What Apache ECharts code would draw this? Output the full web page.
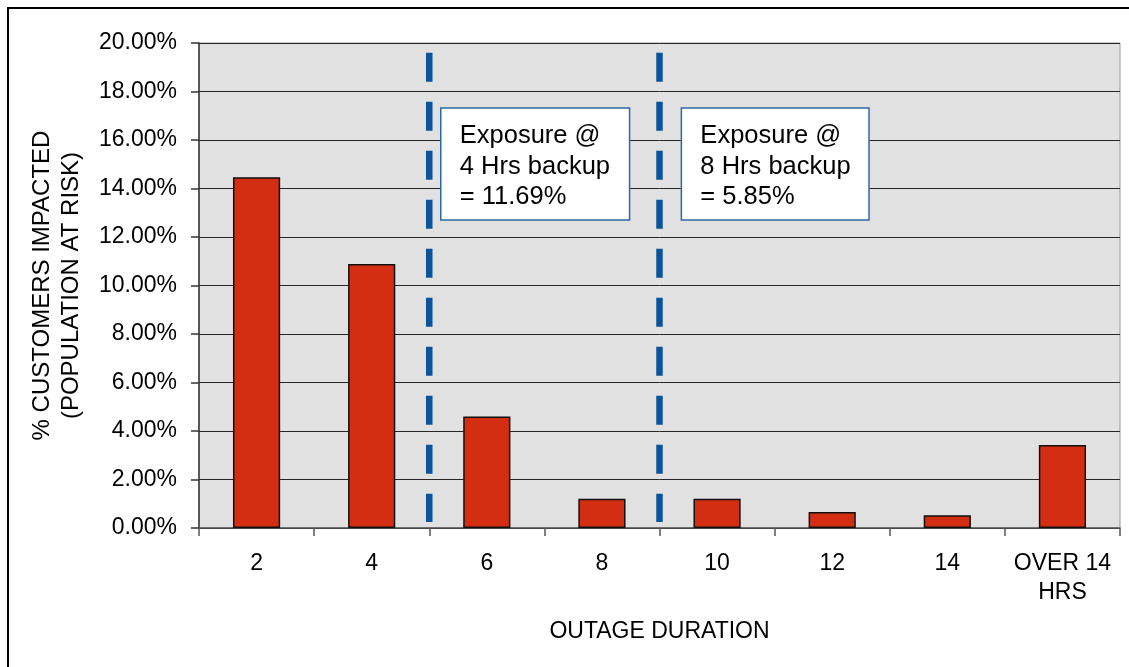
<!DOCTYPE html>
<html>
<head>
<meta charset="utf-8">
<title>Outage duration exposure</title>
<script src="https://cdn.jsdelivr.net/npm/echarts@6/dist/echarts.min.js"></script>
<style>
  html, body { margin: 0; padding: 0; background: #ffffff; }
  #chart { width: 1129px; height: 667px; }
</style>
</head>
<body>
<div id="chart"></div>
<script>
// Outage duration buckets (hours) and share of customers impacted (%)
var categories = ['2', '4', '6', '8', '10', '12', '14', 'OVER 14\nHRS'];
var impacted = [14.46, 10.89, 4.60, 1.21, 1.21, 0.66, 0.53, 3.42];

// Y axis scale
var yMin = 0, yMax = 20, yStep = 2;

// Backup thresholds, drawn on the boundary between category slots
// (slot index scale: category i sits at i, boundaries at i +/- 0.5)
var backupLines = [1.5, 3.5];
var lineTop = 19.6, lineBottom = 0.25;

// Annotation boxes: [left, right, top, bottom] in slot / percent units
var boxes = [
  [1.60, 3.24, 17.32, 12.70],
  [3.69, 5.32, 17.32, 12.70]
];
var boxTexts = [
  'Exposure @\n4 Hrs backup\n= 11.69%',
  'Exposure @\n8 Hrs backup\n= 5.85%'
];

var FONT = "'Liberation Sans', Arial, sans-serif";

var chart = echarts.init(document.getElementById('chart'), null, { renderer: 'canvas' });

chart.setOption({
  animation: false,
  backgroundColor: '#ffffff',
  textStyle: { fontFamily: FONT, color: '#000' },
  graphic: [{
    type: 'rect',
    shape: { x: 8, y: 8, width: 1200, height: 1000 },
    style: { fill: 'none', stroke: '#000', lineWidth: 2 },
    silent: true,
    z: 100
  }],
  grid: {
    left: 199, right: 9, top: 43, bottom: 139,
    show: true,
    backgroundColor: '#E1E1E1',
    borderColor: '#9a9a9a',
    borderWidth: 1
  },
  xAxis: [{
    type: 'category',
    data: categories,
    boundaryGap: true,
    axisLine: { onZero: false, lineStyle: { color: '#555', width: 1.5 } },
    axisTick: { show: true, length: 8, alignWithLabel: false, lineStyle: { color: '#555', width: 1.5 } },
    axisLabel: {
      color: '#000', fontFamily: FONT, fontSize: 23, lineHeight: 29,
      margin: 21, interval: 0
    },
    name: 'OUTAGE DURATION',
    nameLocation: 'middle',
    nameGap: 92,
    nameTextStyle: { color: '#000', fontFamily: FONT, fontSize: 23 }
  }, {
    type: 'value',
    min: -0.5, max: 7.5,
    show: false
  }],
  yAxis: {
    type: 'value',
    min: yMin, max: yMax, interval: yStep,
    axisLine: { show: true, onZero: false, lineStyle: { color: '#333', width: 1.5 } },
    axisTick: { show: true, length: 8, lineStyle: { color: '#333', width: 1.5 } },
    axisLabel: {
      color: '#000', fontFamily: FONT, fontSize: 23, margin: 22,
      formatter: function (v) { return v.toFixed(2) + '%'; }
    },
    splitLine: { show: true, lineStyle: { color: '#262626', width: 1 } },
    name: '% CUSTOMERS IMPACTED\n(POPULATION AT RISK)',
    nameLocation: 'middle',
    nameRotate: 90,
    nameGap: 113,
    nameTextStyle: { color: '#000', fontFamily: FONT, fontSize: 24, lineHeight: 29 }
  },
  series: [{
    type: 'bar',
    data: impacted,
    barWidth: '41%',
    itemStyle: { color: '#D42E12', borderColor: '#111', borderWidth: 1.5 },
    z: 3
  }, {
    // dashed backup threshold lines
    type: 'custom',
    xAxisIndex: 1,
    clip: false,
    data: backupLines.map(function (x) { return [x]; }),
    renderItem: function (params, api) {
      var x = api.value(0);
      var p0 = api.coord([x, lineTop]);
      var p1 = api.coord([x, lineBottom]);
      return {
        type: 'line',
        shape: { x1: p0[0], y1: p0[1], x2: p1[0], y2: p1[1] },
        style: { stroke: '#0B549A', lineWidth: 6.5, lineDash: [29, 20], fill: null }
      };
    },
    z: 4
  }, {
    // exposure annotation boxes
    type: 'custom',
    xAxisIndex: 1,
    clip: false,
    data: boxes,
    renderItem: function (params, api) {
      var tl = api.coord([api.value(0), api.value(2)]);
      var br = api.coord([api.value(1), api.value(3)]);
      return {
        type: 'group',
        children: [{
          type: 'rect',
          shape: { x: tl[0], y: tl[1], width: br[0] - tl[0], height: br[1] - tl[1] },
          style: { fill: '#ffffff', stroke: '#2E6AA3', lineWidth: 1.5 }
        }, {
          type: 'text',
          x: tl[0] + 19,
          y: tl[1] + 13,
          style: {
            text: boxTexts[params.dataIndex],
            font: '25.5px ' + FONT,
            fill: '#000',
            lineHeight: 30.5,
            align: 'left',
            verticalAlign: 'top'
          }
        }]
      };
    },
    z: 5
  }]
});
</script>
</body>
</html>
